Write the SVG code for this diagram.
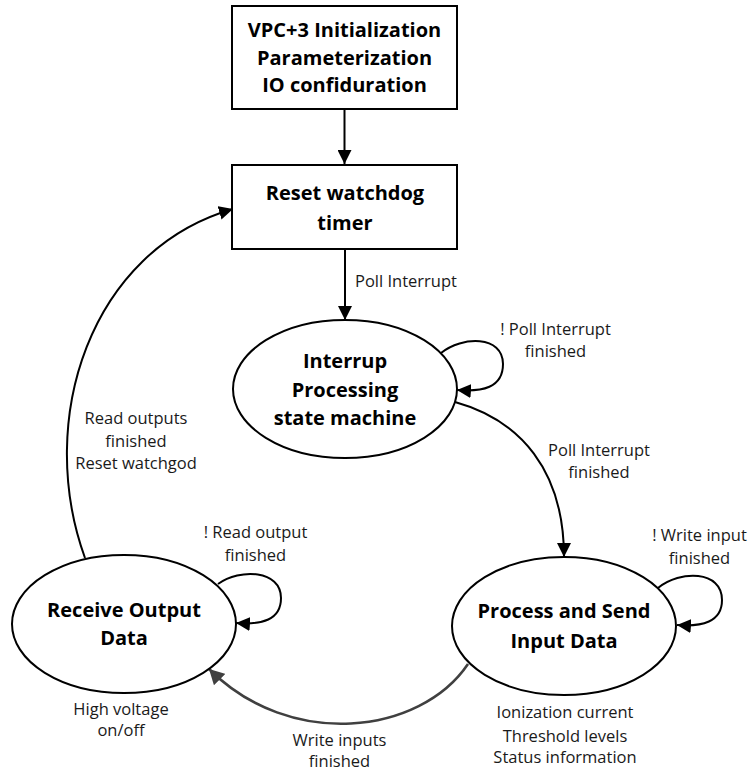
<svg xmlns="http://www.w3.org/2000/svg" width="750" height="771" viewBox="0 0 750 771">
  <style>
    .shape { fill: #ffffff; stroke: #000000; stroke-width: 2; }
    .title { font-family: "Open Sans", "Liberation Sans", sans-serif; font-weight: bold; font-size: 20px; fill: #000000; text-anchor: middle; }
    .label { font-family: "Open Sans", "Liberation Sans", sans-serif; font-size: 16.5px; fill: #1a1a1a; text-anchor: middle; }
    .edge { fill: none; stroke: #000000; stroke-width: 2; }
    .edge-gray { fill: none; stroke: #404040; stroke-width: 2.6; }
  </style>
  <defs>
    <marker id="arrow" markerUnits="userSpaceOnUse" markerWidth="16" markerHeight="14" refX="14" refY="7" orient="auto">
      <path d="M0,0 L14,7 L0,14 Z" fill="#000000"/>
    </marker>
    <marker id="arrow-gray" markerUnits="userSpaceOnUse" markerWidth="18" markerHeight="16" refX="15" refY="8" orient="auto">
      <path d="M0,0 L15,8 L0,16 Z" fill="#404040"/>
    </marker>
  </defs>

  <rect width="750" height="771" fill="#ffffff"/>

  <!-- connectors -->
  <g id="connectors">
    <path class="edge" d="M344.5,109 L344.5,164" marker-end="url(#arrow)"/>
    <path class="edge" d="M345,249 L345,320" marker-end="url(#arrow)"/>
    <path class="edge" d="M441,353 C462,336 503,335 503,364 C503,388 482,392 457,390" marker-end="url(#arrow)"/>
    <path class="edge" d="M455,402 C520,420 564,470 564,557" marker-end="url(#arrow)"/>
    <path class="edge" d="M658,588 C680,570 722,570 722,600 C722,622 702,627 677,625" marker-end="url(#arrow)"/>
    <path class="edge-gray" d="M468,664 C420,735 290,750 209,669" marker-end="url(#arrow-gray)"/>
    <path class="edge" d="M218,584 C240,568 281,570 281,598 C281,620 262,625 236,623" marker-end="url(#arrow)"/>
    <path class="edge" d="M85,558 C35,420 90,250 233,209" marker-end="url(#arrow)"/>

    <text class="label" x="355" y="287" style="text-anchor:start">Poll Interrupt</text>
    <text class="label" x="555.5" y="335">! Poll Interrupt</text>
    <text class="label" x="555.5" y="357">finished</text>
    <text class="label" x="599" y="456">Poll Interrupt</text>
    <text class="label" x="599" y="478">finished</text>
    <text class="label" x="699.5" y="541">! Write input</text>
    <text class="label" x="699.5" y="564">finished</text>
    <text class="label" x="255.5" y="538">! Read output</text>
    <text class="label" x="255.5" y="561">finished</text>
    <text class="label" x="136" y="424">Read outputs</text>
    <text class="label" x="136" y="447">finished</text>
    <text class="label" x="136" y="469">Reset watchgod</text>
    <text class="label" x="339.5" y="746">Write inputs</text>
    <text class="label" x="339.5" y="767">finished</text>
  </g>

  <g id="init">
    <rect class="shape" x="232" y="6" width="225" height="103"/>
    <text class="title" x="344.5" y="37">VPC+3 Initialization</text>
    <text class="title" x="344.5" y="64.5">Parameterization</text>
    <text class="title" x="344.5" y="92">IO confiduration</text>
  </g>

  <g id="reset-watchdog">
    <rect class="shape" x="232" y="165" width="225" height="84"/>
    <text class="title" x="345" y="200">Reset watchdog</text>
    <text class="title" x="345" y="230">timer</text>
  </g>

  <g id="interrupt-processing">
    <ellipse class="shape" cx="345" cy="389" rx="112" ry="69"/>
    <text class="title" x="345" y="368">Interrup</text>
    <text class="title" x="345" y="397">Processing</text>
    <text class="title" x="345" y="425">state machine</text>
  </g>

  <g id="process-send-input">
    <ellipse class="shape" cx="564" cy="626" rx="112" ry="69"/>
    <text class="title" x="564" y="618">Process and Send</text>
    <text class="title" x="564" y="648">Input Data</text>
    <text class="label" x="565" y="718">Ionization current</text>
    <text class="label" x="565" y="742">Threshold levels</text>
    <text class="label" x="565" y="763">Status information</text>
  </g>

  <g id="receive-output">
    <ellipse class="shape" cx="124" cy="624" rx="112" ry="69"/>
    <text class="title" x="124" y="617">Receive Output</text>
    <text class="title" x="124" y="645">Data</text>
    <text class="label" x="121" y="715">High voltage</text>
    <text class="label" x="121" y="736">on/off</text>
  </g>
</svg>
